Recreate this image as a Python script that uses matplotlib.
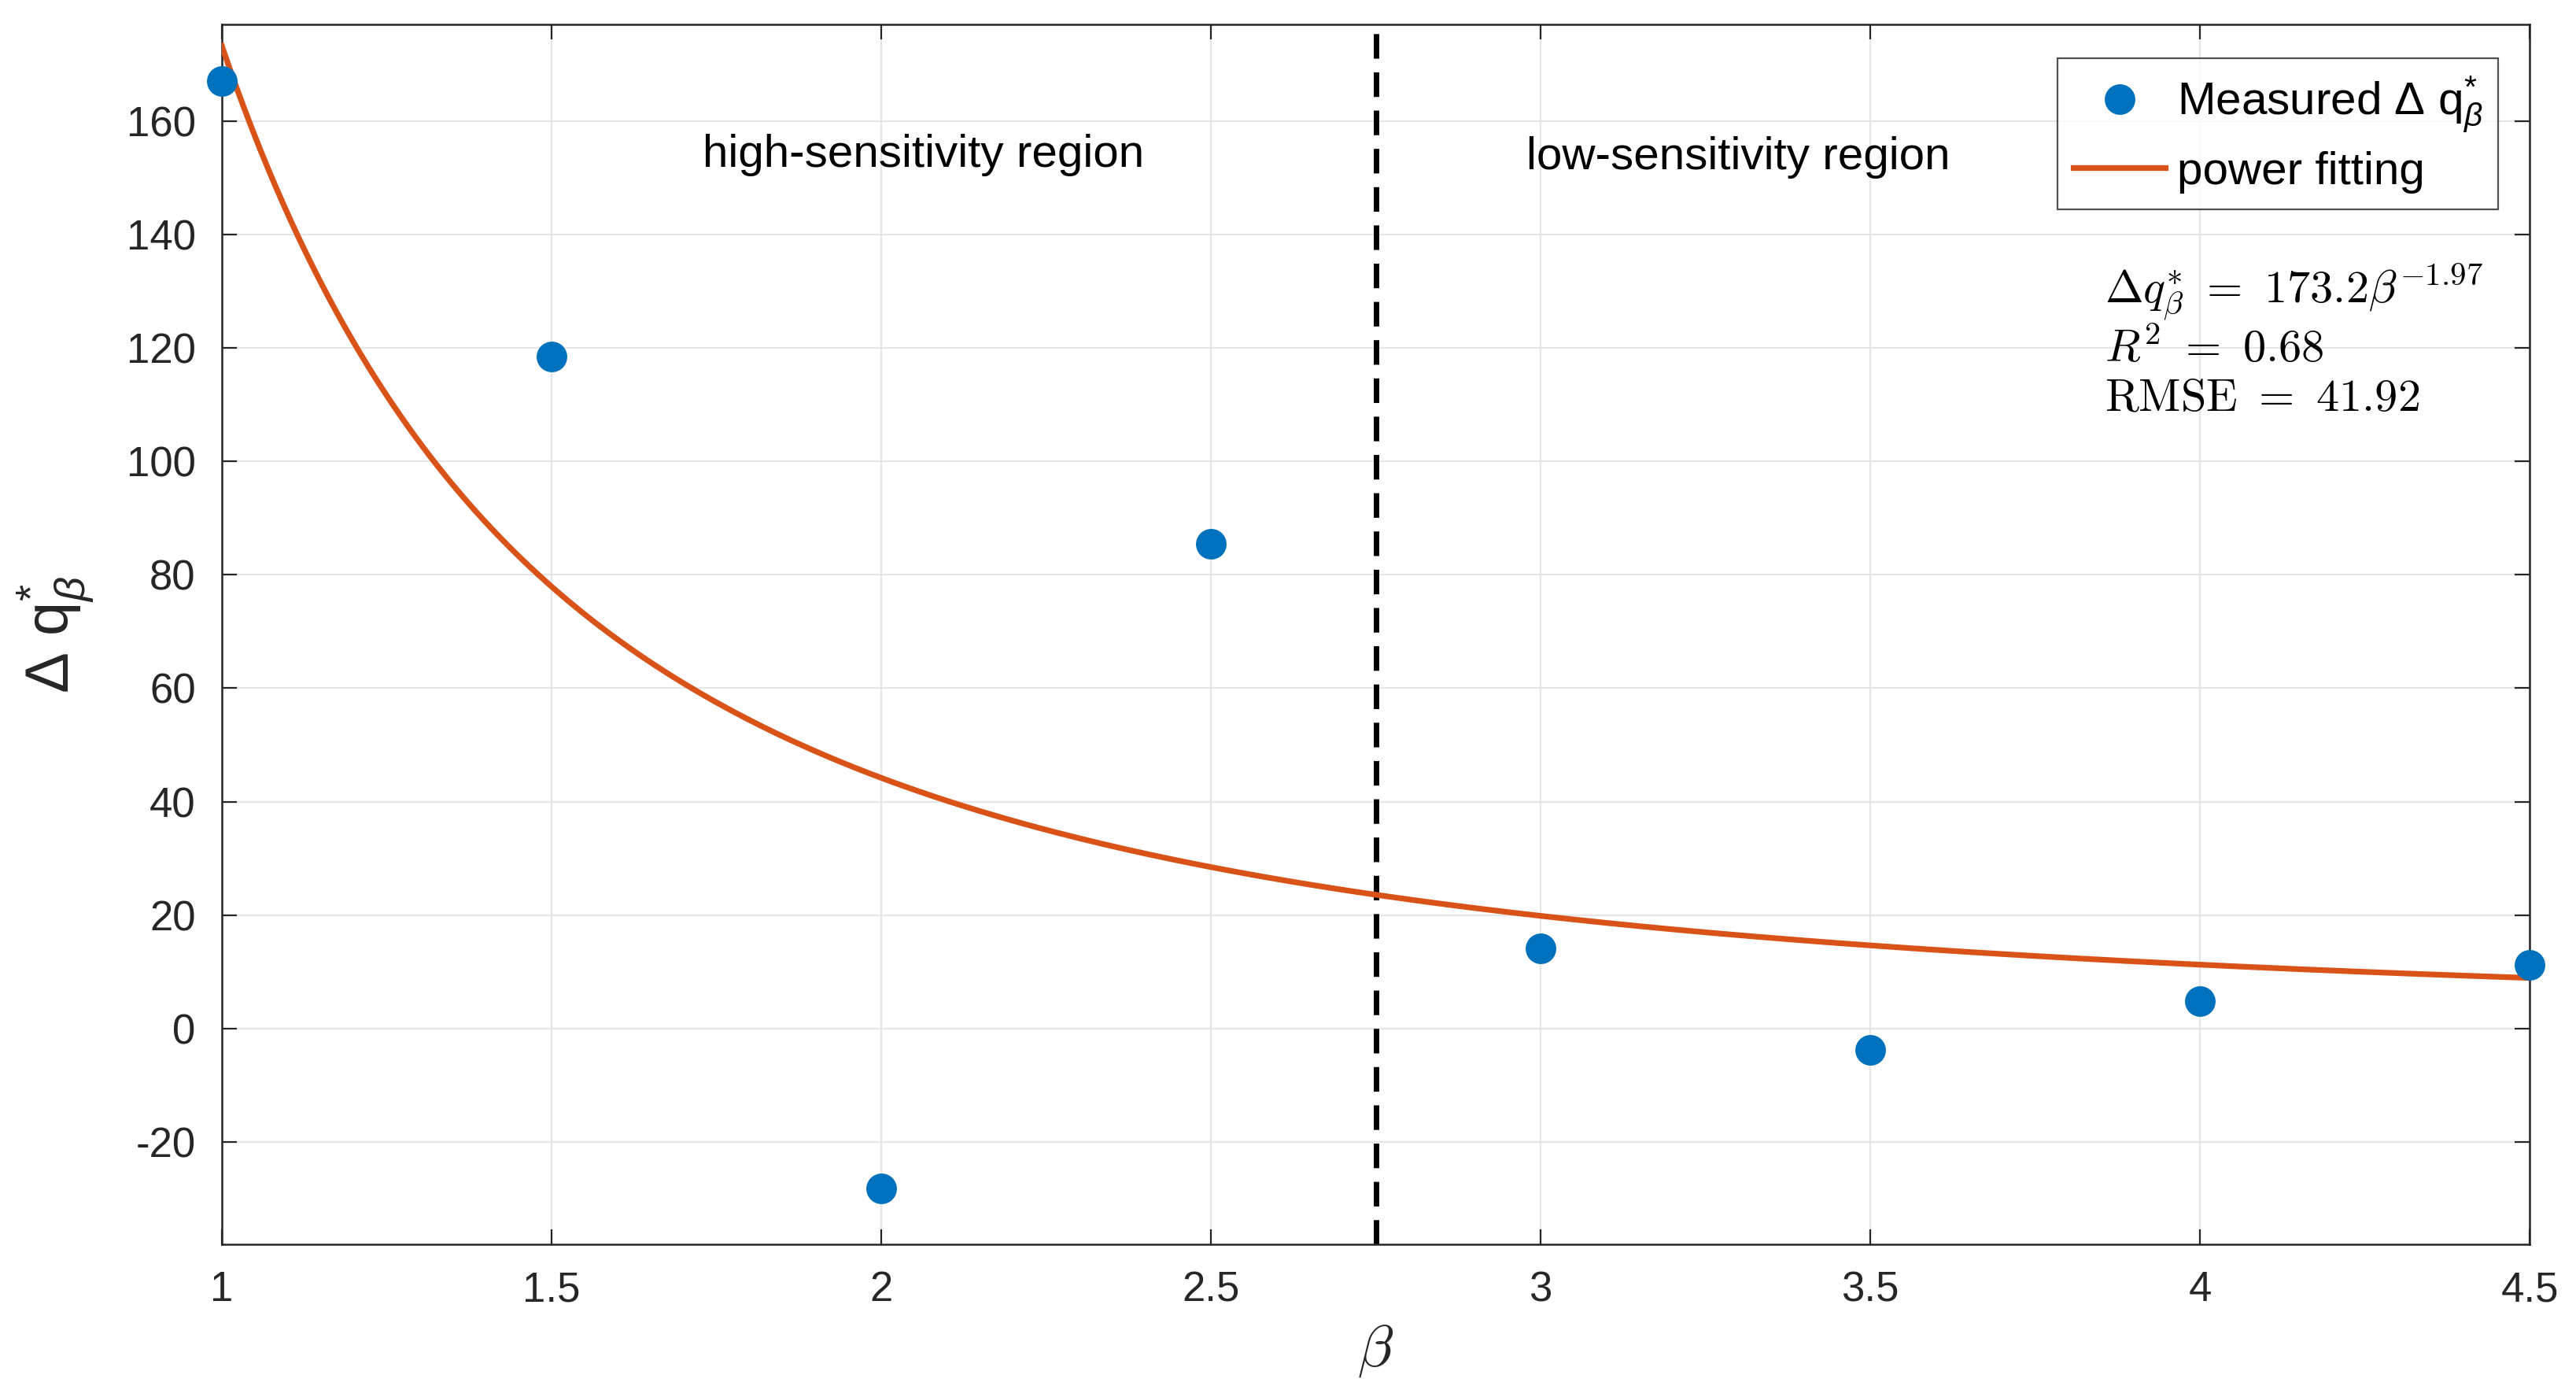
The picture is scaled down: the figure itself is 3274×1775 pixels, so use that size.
import matplotlib.pyplot as plt
import numpy as np

# datos medidos
beta = [1.0, 1.5, 2.0, 2.5, 3.0, 3.5, 4.0, 4.5]
delta_q = [167.0, 118.5, -28.2, 85.5, 14.2, -3.8, 4.9, 11.3]

# parametros del ajuste de potencia (del texto de la figura)
coef_a = 173.2
coef_b = -1.97
r2 = 0.68
rmse = 41.92

limite_region = 2.75
xticks = [1, 1.5, 2, 2.5, 3, 3.5, 4, 4.5]
yticks = [-20, 0, 20, 40, 60, 80, 100, 120, 140, 160]

plt.rcParams['font.family'] = ['Liberation Sans', 'DejaVu Sans']
plt.rcParams['mathtext.fontset'] = 'custom'
plt.rcParams['mathtext.rm'] = 'Liberation Sans'
plt.rcParams['mathtext.it'] = 'Liberation Sans:italic'
plt.rcParams['axes.unicode_minus'] = False

azul = '#0072BD'
naranja = '#D95319'
gris = '#262626'

fig = plt.figure(figsize=(16.37, 8.875), dpi=200)
ax = fig.add_axes([282 / 3274, 1 - 1581 / 1775, (3215 - 282) / 3274, (1581 - 31) / 1775])

x_fit = np.linspace(1, 4.5, 300)
y_fit = coef_a * x_fit ** coef_b

ax.plot(beta, delta_q, 'o', color=azul, markersize=13, clip_on=False, zorder=4,
        label=r'Measured $\Delta$ q$^{*}_{\beta}$')
ax.plot(x_fit, y_fit, '-', color=naranja, linewidth=2.6, zorder=3, label='power fitting')
ax.axvline(limite_region, color='black', linewidth=2.5, linestyle=(0, (4.5, 2.5)), zorder=2)

ax.text(2.064, 154, 'high-sensitivity region', fontsize=21, ha='center', va='center', color='black')
ax.text(3.30, 153.5, 'low-sensitivity region', fontsize=21, ha='center', va='center', color='black')

anot = (r'$\Delta q^{*}_{\beta}\ =\ %.1f\beta^{%.2f}$' % (coef_a, coef_b) + '\n'
        + r'$R^{2}\ =\ %.2f$' % r2 + '\n' + r'$\mathrm{RMSE}\ =\ %.2f$' % rmse)
ax.text(0.816, 0.805, anot, transform=ax.transAxes, fontsize=21, va='top', ha='left',
        math_fontfamily='cm', linespacing=1.2)

ax.set_xlim(1, 4.5)
ax.set_ylim(-38, 177)
ax.set_xticks(xticks)
ax.set_xticklabels(['1', '1.5', '2', '2.5', '3', '3.5', '4', '4.5'])
ax.set_yticks(yticks)
ax.grid(True, color='#e6e6e6', linewidth=0.8)
ax.set_axisbelow(True)
ax.tick_params(direction='in', top=True, right=True, length=7, width=0.8,
               labelsize=19, colors=gris, labelcolor=gris, pad=12)
for s in ax.spines.values():
    s.set_color(gris)
    s.set_linewidth(0.9)

ax.set_xlabel(r'$\beta$', fontsize=27, color=gris, math_fontfamily='cm', labelpad=6)
ax.set_ylabel(r'$\Delta$ q$^{*}_{\beta}$', fontsize=28, color=gris, labelpad=14)

leg = ax.legend(loc='upper right', bbox_to_anchor=(0.9865, 0.972), fontsize=21,
                frameon=True, fancybox=False, edgecolor=gris, handlelength=2.0,
                borderpad=0.35, labelspacing=0.35, handletextpad=0.25, borderaxespad=0)
leg.get_frame().set_linewidth(0.8)

fig.savefig('out.png', dpi=200, facecolor='white')
